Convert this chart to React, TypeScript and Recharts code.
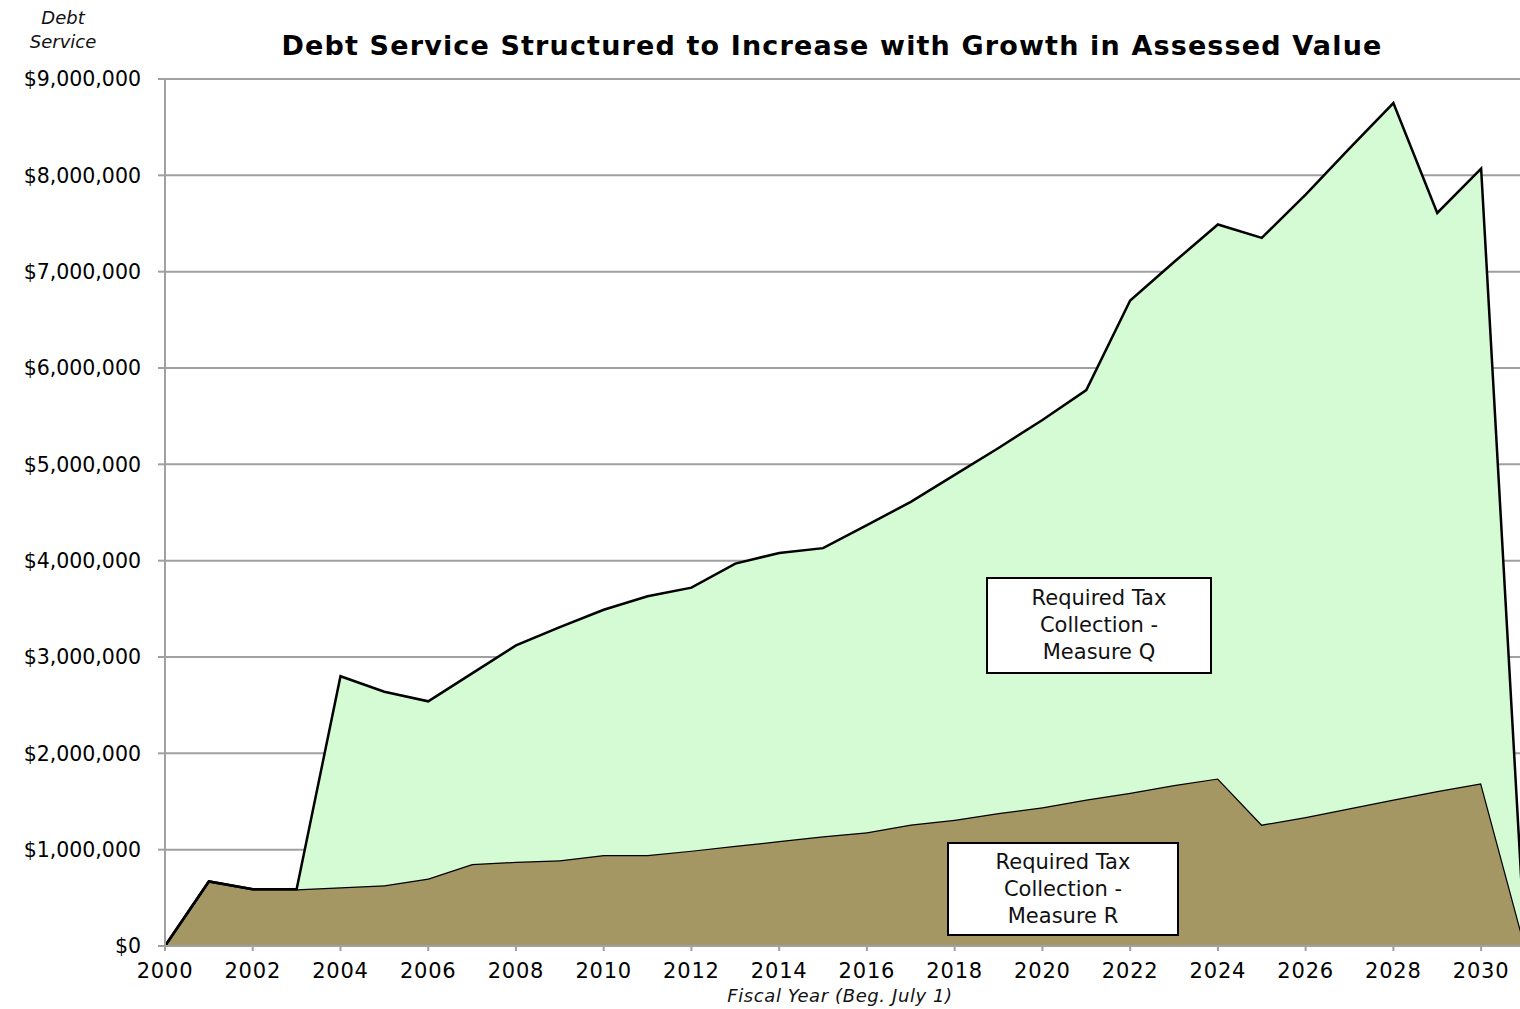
import React from 'react';
import { AreaChart, Area, XAxis, YAxis, CartesianGrid } from 'recharts';

// fiscal years (beg. July 1)
const YEARS = [
  2000, 2001, 2002, 2003, 2004, 2005, 2006, 2007, 2008, 2009, 2010, 2011, 2012, 2013, 2014, 2015,
  2016, 2017, 2018, 2019, 2020, 2021, 2022, 2023, 2024, 2025, 2026, 2027, 2028, 2029, 2030, 2031,
];

// Required tax collection - Measure R ($)
const MEASURE_R = [
  0, 670000, 590000, 590000, 610000, 630000, 700000, 850000, 875000, 890000, 945000, 945000,
  990000, 1040000, 1090000, 1140000, 1180000, 1260000, 1310000, 1380000, 1440000, 1520000,
  1590000, 1670000, 1740000, 1260000, 1340000, 1430000, 1520000, 1610000, 1690000, 0,
];

// Required tax collection - Measure Q ($), stacked on top of R
const MEASURE_Q = [
  0, 0, 0, 0, 2190000, 2010000, 1840000, 1980000, 2245000, 2420000, 2545000, 2685000,
  2730000, 2930000, 2990000, 2990000, 3190000, 3350000, 3580000, 3790000, 4020000, 4250000,
  5110000, 5430000, 5750000, 6090000, 6460000, 6850000, 7230000, 6000000, 6380000, 0,
];

const Y_TICKS = [0, 1000000, 2000000, 3000000, 4000000, 5000000, 6000000, 7000000, 8000000, 9000000];
const X_TICKS = [2000, 2002, 2004, 2006, 2008, 2010, 2012, 2014, 2016, 2018, 2020, 2022, 2024, 2026, 2028, 2030];

const chartData = YEARS.map((year, i) => ({
  year,
  measureR: MEASURE_R[i],
  measureQ: MEASURE_Q[i],
}));

const FONT = '"DejaVu Sans", sans-serif';
const GRID = '#a0a0a0';

const boxStyle: React.CSSProperties = {
  position: 'absolute',
  background: '#fff',
  border: '2px solid #000',
  boxSizing: 'border-box',
  display: 'flex',
  alignItems: 'center',
  justifyContent: 'center',
  textAlign: 'center',
  fontFamily: FONT,
  fontSize: 21,
  lineHeight: '27px',
  color: '#111',
};

const App: React.FC = () => {
  return (
    <div
      style={{
        position: 'fixed',
        left: 0,
        top: 0,
        width: 1520,
        height: 1009,
        overflow: 'hidden',
        background: '#fff',
      }}
    >
      <AreaChart
        width={1540}
        height={1009}
        data={chartData}
        margin={{ top: 79, right: 15, left: 0, bottom: 33 }}
      >
        <CartesianGrid vertical={false} stroke={GRID} strokeWidth={2} />
        <XAxis
          dataKey="year"
          type="number"
          domain={[2000, 2031]}
          ticks={X_TICKS}
          interval={0}
          height={30}
          tickSize={5}
          tickMargin={12}
          axisLine={{ stroke: GRID, strokeWidth: 2 }}
          tickLine={{ stroke: GRID, strokeWidth: 2 }}
          tick={{ fill: '#000', fontSize: 21, fontFamily: FONT, letterSpacing: 0.8 }}
        />
        <YAxis
          width={165}
          domain={[0, 9000000]}
          ticks={Y_TICKS}
          interval={0}
          tickSize={7}
          tickMargin={17}
          axisLine={{ stroke: GRID, strokeWidth: 2 }}
          tickLine={{ stroke: GRID, strokeWidth: 2 }}
          tick={{ fill: '#000', fontSize: 20.5, fontFamily: FONT }}
          tickFormatter={(v: number) => '$' + v.toLocaleString('en-US')}
        />
        <Area
          type="linear"
          dataKey="measureR"
          stackId="ds"
          stroke="#000"
          strokeWidth={2.5}
          fill="#a59764"
          fillOpacity={1}
          isAnimationActive={false}
        />
        <Area
          type="linear"
          dataKey="measureQ"
          stackId="ds"
          stroke="#000"
          strokeWidth={2.5}
          fill="#d4fbd4"
          fillOpacity={1}
          isAnimationActive={false}
        />
      </AreaChart>

      <div
        style={{
          position: 'absolute',
          left: 0,
          width: 1664,
          top: 30,
          textAlign: 'center',
          fontFamily: FONT,
          fontWeight: 'bold',
          fontSize: 27,
          letterSpacing: 1.15,
          color: '#000',
        }}
      >
        Debt Service Structured to Increase with Growth in Assessed Value
      </div>

      <div
        style={{
          position: 'absolute',
          left: 13,
          width: 100,
          top: 6,
          textAlign: 'center',
          fontFamily: FONT,
          fontStyle: 'italic',
          fontSize: 18,
          lineHeight: '24px',
          color: '#111',
        }}
      >
        Debt
        <br />
        Service
      </div>

      <div
        style={{
          position: 'absolute',
          left: 540,
          width: 600,
          top: 985,
          textAlign: 'center',
          fontFamily: FONT,
          fontStyle: 'italic',
          fontSize: 18,
          letterSpacing: 0.6,
          color: '#111',
        }}
      >
        Fiscal Year (Beg. July 1)
      </div>

      <div style={{ ...boxStyle, left: 986, top: 577, width: 226, height: 97 }}>
        Required Tax
        <br />
        Collection -
        <br />
        Measure Q
      </div>

      <div style={{ ...boxStyle, left: 947, top: 842, width: 232, height: 94 }}>
        Required Tax
        <br />
        Collection -
        <br />
        Measure R
      </div>
    </div>
  );
};

export default App;
